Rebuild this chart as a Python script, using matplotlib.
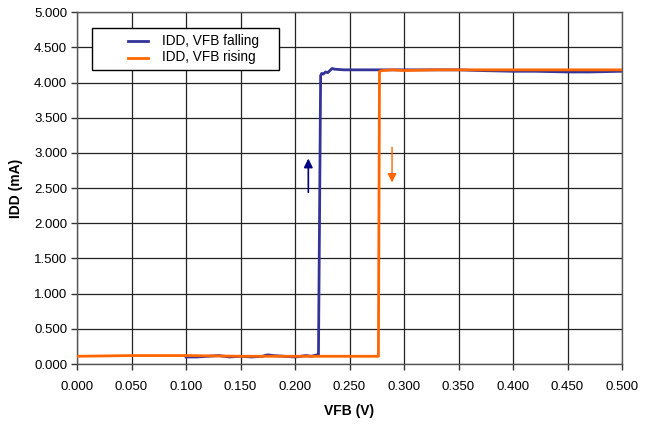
import matplotlib
matplotlib.use("Agg")
import matplotlib.pyplot as plt
from matplotlib.patches import Rectangle
from matplotlib.lines import Line2D
import numpy as np

plt.rcParams['font.family'] = ['Liberation Sans', 'DejaVu Sans']

# Supply current while the feedback voltage is swept downward
vfb_fall = [0.500, 0.470, 0.450, 0.420, 0.400, 0.370, 0.350, 0.320, 0.300, 0.280,
            0.260, 0.245, 0.236, 0.234, 0.230, 0.228, 0.226, 0.2245, 0.2235,
            0.2215, 0.220, 0.215, 0.210, 0.200, 0.190, 0.180, 0.175, 0.170,
            0.160, 0.150, 0.140, 0.130, 0.120, 0.110, 0.100]
idd_fall = [4.16, 4.15, 4.15, 4.16, 4.16, 4.17, 4.18, 4.18, 4.18, 4.18,
            4.18, 4.18, 4.19, 4.20, 4.14, 4.15, 4.12, 4.13, 4.10,
            0.12, 0.13, 0.11, 0.12, 0.10, 0.11, 0.12, 0.13, 0.11,
            0.10, 0.11, 0.10, 0.12, 0.11, 0.10, 0.10]

# Supply current while the feedback voltage is swept upward
vfb_rise = [0.000, 0.050, 0.100, 0.150, 0.200, 0.250, 0.2765, 0.2775, 0.280,
            0.290, 0.300, 0.330, 0.370, 0.400, 0.450, 0.500]
idd_rise = [0.11, 0.12, 0.12, 0.11, 0.11, 0.11, 0.11, 4.16, 4.17,
            4.18, 4.17, 4.18, 4.18, 4.18, 4.18, 4.18]

series_labels = ['IDD, VFB falling', 'IDD, VFB rising']
series_colors = ['#333399', '#FF6600']

x_ticks = np.arange(0.0, 0.5001, 0.05)
y_ticks = np.arange(0.0, 5.0001, 0.5)

W, H = 645, 426
fig = plt.figure(figsize=(W / 100, H / 100), dpi=100)
ax = fig.add_axes([0.1194, 0.1455, 0.845, 0.826])

ax.plot(vfb_fall, idd_fall, color=series_colors[0], lw=2.0, zorder=3)
ax.plot(vfb_rise, idd_rise, color=series_colors[1], lw=2.0, zorder=4)

# Sweep-direction arrows
ax.annotate('', xy=(0.2122, 2.92), xytext=(0.2122, 2.44),
            arrowprops=dict(arrowstyle='-|>', color='#000080', lw=1.2,
                            mutation_scale=13, shrinkA=0, shrinkB=0), zorder=5)
ax.annotate('', xy=(0.289, 2.58), xytext=(0.289, 3.08),
            arrowprops=dict(arrowstyle='-|>', color='#FF6600', lw=1.0,
                            mutation_scale=13, shrinkA=0, shrinkB=0), zorder=5)

ax.set_xlim(0, 0.5)
ax.set_ylim(0, 5.0)
ax.set_xticks(x_ticks)
ax.set_yticks(y_ticks)
ax.set_xticklabels([f'{v:.3f}' for v in x_ticks])
ax.set_yticklabels([f'{v:.3f}' for v in y_ticks])
ax.tick_params(axis='both', direction='out', length=4, width=1, colors='#333333',
               labelsize=9.5, labelcolor='black', pad=3)
ax.tick_params(axis='x', pad=8)

ax.grid(True, color='#222222', lw=0.9)
ax.set_axisbelow(True)
for s in ax.spines.values():
    s.set_color('#555555')
    s.set_linewidth(1.0)

ax.set_xlabel('VFB (V)', fontsize=10, fontweight='bold', labelpad=8)
ax.set_ylabel('IDD (mA)', fontsize=10, fontweight='bold', labelpad=8)

# Legend box with wide inner margins, placed in pixel units
def fx(px):
    return px / W

def fy(py):
    return 1 - py / H

fig.patches.append(Rectangle((fx(92), fy(70)), fx(279) - fx(92), fy(28) - fy(70),
                             transform=fig.transFigure, facecolor='white',
                             edgecolor='black', lw=1.0, zorder=10))
for i, (lab, col) in enumerate(zip(series_labels, series_colors)):
    yc = 41 + i * 16.5
    fig.lines.append(Line2D([fx(128), fx(148)], [fy(yc), fy(yc)],
                            transform=fig.transFigure, color=col, lw=2.0, zorder=11))
    fig.text(fx(162), fy(yc), lab, fontsize=9.8, va='center', ha='left', zorder=12)

fig.savefig('out.png', dpi=100)
